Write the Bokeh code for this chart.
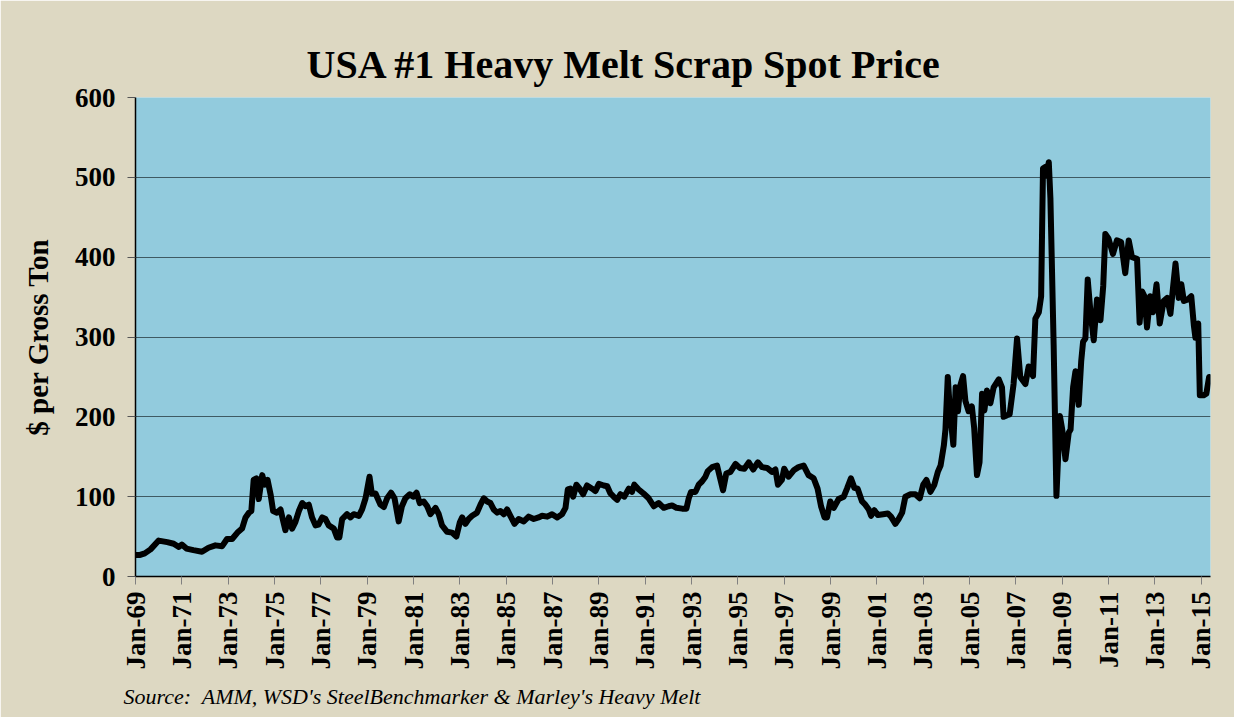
from bokeh.plotting import figure
from bokeh.models import FixedTicker, Range1d, Title
from bokeh.embed import file_html
from bokeh.resources import INLINE
import math

years = [1969.0, 1969.2, 1969.4, 1969.65, 1970.0, 1970.37, 1970.65, 1970.87, 1971.0, 1971.2,
         1971.5, 1971.87, 1972.15, 1972.45, 1972.74, 1972.95, 1973.17, 1973.4, 1973.6, 1973.75,
         1973.9, 1974.0, 1974.1, 1974.22, 1974.32, 1974.47, 1974.58, 1974.7, 1974.83, 1974.94,
         1975.1, 1975.26, 1975.37, 1975.47, 1975.62, 1975.76, 1975.9, 1976.05, 1976.2, 1976.33,
         1976.48, 1976.62, 1976.77, 1976.9, 1977.06, 1977.2, 1977.34, 1977.56, 1977.7, 1977.8,
         1977.92, 1978.13, 1978.28, 1978.42, 1978.64, 1978.78, 1978.93, 1979.1, 1979.2, 1979.36,
         1979.57, 1979.72, 1979.86, 1980.03, 1980.18, 1980.36, 1980.5, 1980.65, 1980.84, 1980.98,
         1981.13, 1981.27, 1981.44, 1981.59, 1981.73, 1981.95, 1982.09, 1982.23, 1982.45, 1982.66,
         1982.85, 1983.0, 1983.1, 1983.24, 1983.38, 1983.53, 1983.74, 1983.89, 1984.03, 1984.18,
         1984.32, 1984.46, 1984.61, 1984.75, 1984.9, 1985.04, 1985.18, 1985.36, 1985.54, 1985.76,
         1985.97, 1986.19, 1986.4, 1986.55, 1986.77, 1986.98, 1987.2, 1987.41, 1987.56, 1987.66,
         1987.77, 1987.89, 1988.03, 1988.17, 1988.32, 1988.49, 1988.71, 1988.85, 1989.0, 1989.21,
         1989.36, 1989.5, 1989.64, 1989.79, 1989.93, 1990.1, 1990.29, 1990.43, 1990.53, 1990.72,
         1990.93, 1991.15, 1991.37, 1991.58, 1991.8, 1992.01, 1992.16, 1992.35, 1992.59, 1992.78,
         1992.88, 1992.98, 1993.17, 1993.31, 1993.45, 1993.6, 1993.7, 1993.89, 1994.1, 1994.25,
         1994.36, 1994.5, 1994.68, 1994.9, 1995.08, 1995.28, 1995.47, 1995.66, 1995.86, 1996.04,
         1996.26, 1996.47, 1996.62, 1996.73, 1996.9, 1997.0, 1997.19, 1997.41, 1997.62, 1997.84,
         1998.05, 1998.27, 1998.44, 1998.59, 1998.74, 1998.85, 1998.99, 1999.14, 1999.35, 1999.57,
         1999.71, 1999.88, 2000.03, 2000.17, 2000.36, 2000.5, 2000.65, 2000.75, 2000.89, 2001.04,
         2001.27, 2001.47, 2001.61, 2001.8, 2001.94, 2002.09, 2002.23, 2002.45, 2002.66, 2002.85,
         2003.0, 2003.14, 2003.31, 2003.48, 2003.63, 2003.75, 2003.89, 2003.96, 2004.06, 2004.15,
         2004.3, 2004.4, 2004.5, 2004.6, 2004.72, 2004.82, 2004.96, 2005.1, 2005.2, 2005.32,
         2005.43, 2005.54, 2005.64, 2005.75, 2005.9, 2006.04, 2006.26, 2006.4, 2006.47, 2006.62,
         2006.73, 2006.9, 2007.05, 2007.19, 2007.41, 2007.55, 2007.74, 2007.84, 2007.99, 2008.09,
         2008.17, 2008.27, 2008.35, 2008.42, 2008.49, 2008.63, 2008.75, 2008.9, 2009.0, 2009.14,
         2009.28, 2009.36, 2009.47, 2009.57, 2009.71, 2009.82, 2009.9, 2010.0, 2010.1, 2010.22,
         2010.36, 2010.5, 2010.65, 2010.77, 2010.86, 2011.0, 2011.19, 2011.36, 2011.54, 2011.72,
         2011.87, 2012.01, 2012.23, 2012.34, 2012.45, 2012.55, 2012.66, 2012.8, 2012.92, 2013.07,
         2013.21, 2013.38, 2013.53, 2013.67, 2013.79, 2013.89, 2014.03, 2014.14, 2014.25, 2014.42,
         2014.57, 2014.68, 2014.75, 2014.87, 2014.94, 2015.1, 2015.22, 2015.34]

prices = [27, 27, 29, 34, 45, 43, 41, 37, 40, 35,
          33, 31, 36, 39, 38, 47, 47, 55, 60, 74,
          80, 82, 121, 123, 97, 127, 115, 121, 103, 82,
          80, 84, 70, 58, 74, 60, 68, 82, 92, 88,
          90, 74, 64, 65, 74, 72, 64, 60, 49, 49,
          72, 78, 74, 78, 76, 84, 98, 125, 104, 104,
          90, 87, 98, 105, 98, 69, 88, 98, 103, 100,
          105, 92, 94, 88, 78, 86, 78, 64, 56, 55,
          50, 68, 74, 66, 72, 76, 80, 90, 98, 94,
          92, 84, 80, 82, 78, 84, 76, 66, 72, 69,
          75, 72, 74, 76, 75, 78, 74, 78, 86, 109,
          110, 100, 115, 110, 103, 114, 110, 107, 116, 114,
          113, 104, 100, 96, 103, 100, 110, 106, 115, 109,
          104, 98, 88, 92, 86, 88, 89, 86, 85, 85,
          98, 106, 106, 115, 119, 125, 132, 137, 139, 121,
          108, 129, 131, 141, 136, 135, 143, 134, 143, 137,
          136, 131, 134, 115, 121, 135, 125, 133, 137, 139,
          127, 123, 110, 88, 74, 74, 94, 86, 97, 100,
          110, 123, 111, 110, 94, 90, 84, 76, 83, 77,
          78, 79, 75, 66, 72, 80, 100, 103, 103, 98,
          115, 121, 106, 115, 131, 139, 164, 184, 250, 208,
          165, 237, 207, 239, 251, 220, 207, 213, 186, 127,
          143, 229, 208, 233, 217, 237, 247, 237, 200, 202,
          203, 241, 298, 250, 241, 263, 251, 323, 331, 351,
          511, 513, 502, 519, 474, 290, 101, 201, 184, 147,
          180, 184, 237, 257, 215, 270, 294, 298, 372, 331,
          296, 347, 321, 364, 429, 423, 404, 421, 419, 380,
          421, 400, 398, 318, 357, 351, 312, 351, 331, 366,
          317, 345, 349, 329, 364, 392, 349, 366, 345, 347,
          351, 315, 299, 317, 227, 227, 229, 250]

tick_years = list(range(1969, 2016, 2))
tick_labels = ["Jan-%02d" % (y % 100) for y in tick_years]
y_ticks = [0, 100, 200, 300, 400, 500, 600]

title_text = "USA #1 Heavy Melt Scrap Spot Price"
y_label = "$ per Gross Ton"
source_text = "Source:\u00a0 AMM, WSD's SteelBenchmarker & Marley's Heavy Melt"

BEIGE = "#ddd8c2"
BLUE = "#92cbdd"
SERIF = "Liberation Serif"

p = figure(width=1234, height=717, output_backend="svg", toolbar_location=None,
           x_range=Range1d(1969.0, 2015.4), y_range=Range1d(0, 600),
           min_border_left=135, min_border_right=24, min_border_top=97, min_border_bottom=130)

p.background_fill_color = BLUE
p.border_fill_color = BEIGE
p.outline_line_color = None

p.line(years, prices, line_color="black", line_width=6, line_join="round", line_cap="round")

# grid
p.xgrid.visible = False
p.ygrid.ticker = FixedTicker(ticks=y_ticks)
p.ygrid.grid_line_color = "#3e5a63"
p.ygrid.grid_line_width = 1.2

# x axis
xa = p.xaxis[0]
xa.ticker = FixedTicker(ticks=tick_years)
xa.major_label_overrides = {y: l for y, l in zip(tick_years, tick_labels)}
xa.major_label_orientation = math.pi / 2
xa.major_label_text_font = SERIF
xa.major_label_text_font_style = "bold"
xa.major_label_text_font_size = "27px"
xa.major_label_text_color = "black"
xa.major_label_standoff = 7
xa.axis_line_color = "black"
xa.axis_line_width = 1.5
xa.major_tick_line_color = "#808080"
xa.major_tick_in = 0
xa.major_tick_out = 8
xa.minor_tick_line_color = None

# y axis
ya = p.yaxis[0]
ya.ticker = FixedTicker(ticks=y_ticks)
ya.major_label_text_font = SERIF
ya.major_label_text_font_style = "bold"
ya.major_label_text_font_size = "27px"
ya.major_label_text_color = "black"
ya.major_label_standoff = 12
ya.axis_line_color = "black"
ya.axis_line_width = 1.5
ya.major_tick_line_color = "#555555"
ya.major_tick_in = 0
ya.major_tick_out = 8
ya.minor_tick_line_color = None
ya.axis_label = y_label
ya.axis_label_text_font = SERIF
ya.axis_label_text_font_style = "bold"
ya.axis_label_text_font_size = "29px"
ya.axis_label_text_color = "black"
ya.axis_label_standoff = 18

# title and source note
p.add_layout(Title(text=title_text, text_font=SERIF, text_font_style="bold",
                   text_font_size="40px", text_color="black", align="left",
                   offset=171, standoff=21), "above")
p.add_layout(Title(text=source_text, text_font=SERIF, text_font_style="italic",
                   text_font_size="22px", text_color="black", align="left",
                   offset=-12, standoff=18), "below")

open("out.html", "w").write(file_html(p, INLINE))
